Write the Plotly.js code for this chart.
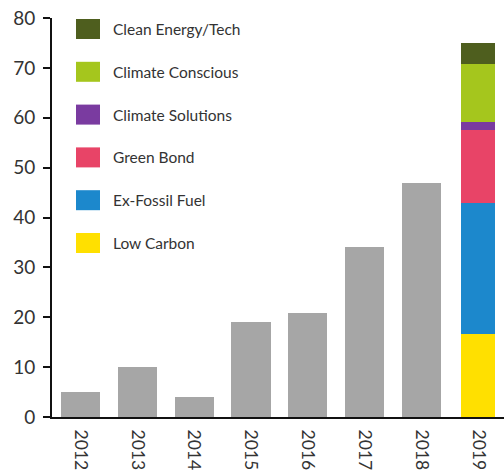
<!DOCTYPE html>
<html>
<head>
<meta charset="utf-8">
<script src="https://cdn.plot.ly/plotly-3.0.1.min.js"></script>
<style>
  html, body { margin: 0; padding: 0; background: #fff; }
  #chart { width: 504px; height: 476px; }
</style>
</head>
<body>
<div id="chart"></div>
<script>
// Annual totals (2012-2018) shown as plain grey bars
const years = ['2012', '2013', '2014', '2015', '2016', '2017', '2018', '2019'];
const historyYears = ['2012', '2013', '2014', '2015', '2016', '2017', '2018'];
const historyValues = [5, 10, 4.1, 19.1, 20.9, 34, 47];

// 2019 broken down by strategy (stacked bottom to top)
const segmentNames = ['Low Carbon', 'Ex-Fossil Fuel', 'Green Bond', 'Climate Solutions', 'Climate Conscious', 'Clean Energy/Tech'];
const segmentValues = [16.6, 26.3, 14.6, 1.7, 11.5, 4.3];
const segmentColors = ['#FFE000', '#1C88CC', '#E84467', '#7A3BA0', '#A5C61D', '#4E5E1E'];

const yTicks = [0, 10, 20, 30, 40, 50, 60, 70, 80];

const FONT = 'Lato, "Open Sans", sans-serif';

const traces = [{
  type: 'bar',
  x: historyYears,
  y: historyValues,
  marker: { color: '#A6A6A6' },
  width: 0.69,
  showlegend: false,
  hoverinfo: 'x+y'
}];

segmentNames.forEach((name, i) => {
  traces.push({
    type: 'bar',
    name: name,
    x: ['2019'],
    y: [segmentValues[i]],
    marker: { color: segmentColors[i] },
    width: 0.6,
    showlegend: false
  });
});

// Plot-area geometry in pixels, used to place the hand-built legend
const W = 504, H = 476;
const M = { l: 52, r: 0, t: 18, b: 59 };
const plotW = W - M.l - M.r, plotH = H - M.t - M.b;
const px = x => (x - M.l) / plotW;
const py = y => (H - M.b - y) / plotH;

const shapes = [];
const annotations = [];
// Legend lists the top segment first
const order = segmentNames.map((_, i) => i).reverse();
order.forEach((idx, row) => {
  const cy = 29 + row * 42.8;
  shapes.push({
    type: 'rect', xref: 'paper', yref: 'paper',
    x0: px(76), x1: px(100), y0: py(cy + 10), y1: py(cy - 10),
    fillcolor: segmentColors[idx], line: { width: 0 }
  });
  annotations.push({
    xref: 'paper', yref: 'paper', x: px(111), y: py(cy),
    xanchor: 'left', yanchor: 'middle', showarrow: false,
    text: segmentNames[idx],
    font: { family: FONT, size: 15.5, color: '#333333' }
  });
});

const layout = {
  width: W, height: H,
  margin: M,
  paper_bgcolor: '#ffffff', plot_bgcolor: '#ffffff',
  barmode: 'stack',
  showlegend: false,
  font: { family: FONT, color: '#333333' },
  xaxis: {
    type: 'category',
    categoryorder: 'array', categoryarray: years,
    range: [-0.5, 7.45],
    showline: true, linecolor: '#111111', linewidth: 2,
    ticks: '', tickangle: 90, ticklabelstandoff: 7,
    tickfont: { family: FONT, size: 17.5, color: '#333333' },
    showgrid: false, zeroline: false, fixedrange: true
  },
  yaxis: {
    range: [0, 80],
    tickvals: yTicks,
    ticktext: yTicks.map(String),
    showline: true, linecolor: '#111111', linewidth: 2,
    ticks: 'outside', ticklen: 7, tickwidth: 2, tickcolor: '#111111',
    ticklabelstandoff: 4,
    tickfont: { family: FONT, size: 19, color: '#333333' },
    showgrid: false, zeroline: false, fixedrange: true
  },
  shapes: shapes,
  annotations: annotations
};

Plotly.newPlot('chart', traces, layout, { displayModeBar: false, staticPlot: true });
</script>
</body>
</html>
